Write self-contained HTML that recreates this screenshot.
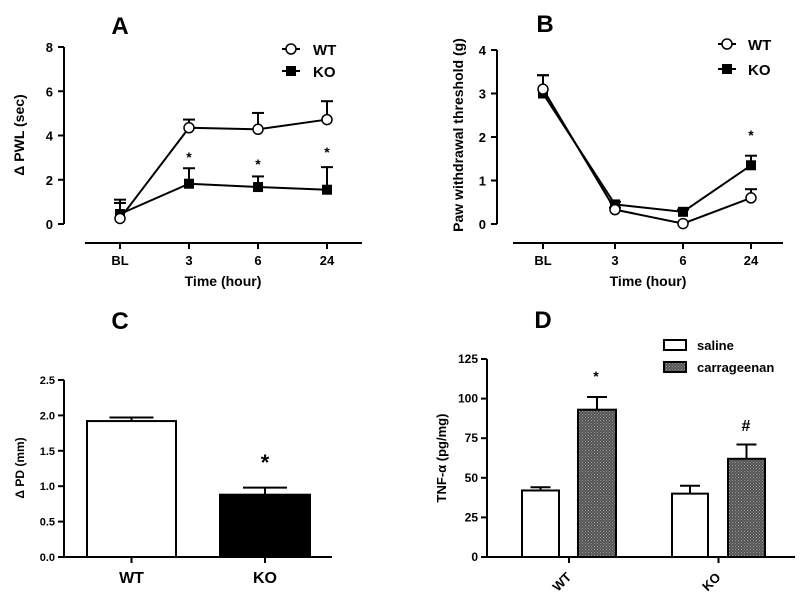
<!DOCTYPE html>
<html><head><meta charset="utf-8"><style>
body{margin:0;background:#fff}
svg{display:block;font-family:"Liberation Sans",Arial,sans-serif;font-weight:bold}
</style></head><body>
<svg id="c" width="800" height="600" viewBox="0 0 800 600">
<defs><pattern id="hatch" width="3" height="3" patternUnits="userSpaceOnUse"><rect width="3" height="3" fill="#555"/><rect width="1" height="1" fill="#999"/><rect x="1.5" y="1.5" width="1" height="1" fill="#888"/></pattern></defs>
</svg>
<script>
// Panel A data
const aCats=["BL","3","6","24"];
const aWT=[0.25,4.35,4.28,4.72];
const aWTerr=[0.7,0.37,0.74,0.83];
const aKO=[0.45,1.82,1.67,1.55];
const aKOerr=[0.65,0.7,0.48,1.02];
const aTicks=[0,2,4,6,8];
// Panel B data
const bCats=["BL","3","6","24"];
const bWT=[3.1,0.33,0.01,0.6];
const bWTerr=[0.32,0.05,0.03,0.2];
const bKO=[3.0,0.45,0.28,1.35];
const bKOerr=[0.42,0.06,0.05,0.22];
const bTicks=[0,1,2,3,4];
// Panel C data
const cCats=["WT","KO"];
const cVals=[1.92,0.88];
const cErr=[0.05,0.1];
const cTicks=["0.0","0.5","1.0","1.5","2.0","2.5"];
// Panel D data
const dCats=["WT","KO"];
const dSaline=[42,40];
const dSalineErr=[2,5];
const dCarr=[93,62];
const dCarrErr=[8,9];
const dTicks=[0,25,50,75,100,125];

const svg=document.getElementById('c');
const NS="http://www.w3.org/2000/svg";
function el(tag,attrs,name,text){
  const e=document.createElementNS(NS,tag);
  for(const k in attrs)e.setAttribute(k,attrs[k]);
  
  
  if(text!==undefined)e.textContent=text;
  svg.appendChild(e);return e;
}
function line(x1,y1,x2,y2,name,w){return el('line',{x1,y1,x2,y2,stroke:'#000','stroke-width':w||2},name);}
function txt(x,y,s,size,name,anchor,extra){const a={x,y,'font-size':size,'text-anchor':anchor||'middle',fill:'#000'};Object.assign(a,extra||{});return el('text',a,name,s);}

// ---------- Panel A ----------
(function(){
  const ya=v=>224-v*22.125, xs=[120,189,258,327];
  txt(120,34,"A",24,'panel-a-title');
  line(64,ya(8),64,ya(0),'a-y-axis');
  aTicks.forEach(t=>{line(58,ya(t),64,ya(t),'a-y-tick');txt(53,ya(t)+5,String(t),13,'a-y-tick-label','end');});
  line(85,243,362,243,'a-x-axis');
  aCats.forEach((c,i)=>{line(xs[i],243,xs[i],249,'a-x-tick');txt(xs[i],265,c,13,'a-x-tick-label');});
  txt(223,286,"Time (hour)",14,'a-x-axis-title');
  txt(24,135,"\u0394 PWL (sec)",14,'a-y-axis-title','middle',{transform:'rotate(-90 24 135)'});
  [[aKO,aKOerr,'ko'],[aWT,aWTerr,'wt']].forEach(([v,e,n])=>{
    v.forEach((d,i)=>{line(xs[i],ya(d),xs[i],ya(d+e[i]),'a-'+n+'-error-bar');line(xs[i]-6,ya(d+e[i]),xs[i]+6,ya(d+e[i]),'a-'+n+'-error-cap');});
    el('polyline',{points:v.map((d,i)=>xs[i]+','+ya(d)).join(' '),fill:'none',stroke:'#000','stroke-width':2},'a-'+n+'-line');
  });
  aKO.forEach((d,i)=>el('rect',{x:xs[i]-5,y:ya(d)-5,width:10,height:10,fill:'#000'},'a-ko-point'));
  aWT.forEach((d,i)=>el('circle',{cx:xs[i],cy:ya(d),r:5,fill:'#fff',stroke:'#000','stroke-width':1.5},'a-wt-point'));
  [[1,aKO[1]+aKOerr[1]],[2,aKO[2]+aKOerr[2]],[3,aKO[3]+aKOerr[3]]].forEach(([i])=>{});
  txt(xs[1],162,"*",14,'a-sig-star');txt(xs[2],169,"*",14,'a-sig-star');txt(xs[3],157,"*",14,'a-sig-star');
  line(282,49,300,49,'a-legend-wt-line');el('circle',{cx:291,cy:49,r:5,fill:'#fff',stroke:'#000','stroke-width':1.5},'a-legend-wt-marker');txt(313,55,"WT",15,'a-legend-wt-label','start');
  line(282,71,300,71,'a-legend-ko-line');el('rect',{x:286,y:66,width:10,height:10,fill:'#000'},'a-legend-ko-marker');txt(313,77,"KO",15,'a-legend-ko-label','start');
})();

// ---------- Panel B ----------
(function(){
  const ya=v=>224-v*43.5, xs=[543,615,683,751];
  txt(545,32,"B",24,'panel-b-title');
  line(497,ya(4),497,ya(0),'b-y-axis');
  bTicks.forEach(t=>{line(491,ya(t),497,ya(t),'b-y-tick');txt(486,ya(t)+5,String(t),13,'b-y-tick-label','end');});
  line(513,243,783,243,'b-x-axis');
  bCats.forEach((c,i)=>{line(xs[i],243,xs[i],249,'b-x-tick');txt(xs[i],265,c,13,'b-x-tick-label');});
  txt(648,286,"Time (hour)",14,'b-x-axis-title');
  txt(463,135,"Paw withdrawal threshold (g)",14,'b-y-axis-title','middle',{transform:'rotate(-90 463 135)'});
  [[bKO,bKOerr,'ko'],[bWT,bWTerr,'wt']].forEach(([v,e,n])=>{
    v.forEach((d,i)=>{line(xs[i],ya(d),xs[i],ya(d+e[i]),'b-'+n+'-error-bar');line(xs[i]-6,ya(d+e[i]),xs[i]+6,ya(d+e[i]),'b-'+n+'-error-cap');});
    el('polyline',{points:v.map((d,i)=>xs[i]+','+ya(d)).join(' '),fill:'none',stroke:'#000','stroke-width':2},'b-'+n+'-line');
  });
  bKO.forEach((d,i)=>el('rect',{x:xs[i]-5,y:ya(d)-5,width:10,height:10,fill:'#000'},'b-ko-point'));
  bWT.forEach((d,i)=>el('circle',{cx:xs[i],cy:ya(d),r:5,fill:'#fff',stroke:'#000','stroke-width':1.5},'b-wt-point'));
  txt(xs[3],140,"*",14,'b-sig-star');
  line(718,44,736,44,'b-legend-wt-line');el('circle',{cx:727,cy:44,r:5,fill:'#fff',stroke:'#000','stroke-width':1.5},'b-legend-wt-marker');txt(748,50,"WT",15,'b-legend-wt-label','start');
  line(718,69,736,69,'b-legend-ko-line');el('rect',{x:722,y:64,width:10,height:10,fill:'#000'},'b-legend-ko-marker');txt(748,75,"KO",15,'b-legend-ko-label','start');
})();

// ---------- Panel C ----------
(function(){
  const ya=v=>557-v*70.8, xs=[[87,176],[220,310]];
  txt(120,329,"C",24,'panel-c-title');
  line(64,ya(2.5),64,557,'c-y-axis');
  cTicks.forEach(t=>{const v=parseFloat(t);line(58,ya(v),64,ya(v),'c-y-tick');txt(55,ya(v)+4,t,11,'c-y-tick-label','end');});
  line(64,557,332,557,'c-x-axis');
  cCats.forEach((c,i)=>{const m=(xs[i][0]+xs[i][1])/2;line(m,557,m,563,'c-x-tick');txt(m,583,c,16,'c-x-tick-label');
    el('rect',{x:xs[i][0],y:ya(cVals[i]),width:xs[i][1]-xs[i][0],height:557-ya(cVals[i]),fill:i?'#000':'#fff',stroke:'#000','stroke-width':2},'c-bar-'+c.toLowerCase());
    line(m,ya(cVals[i]),m,ya(cVals[i]+cErr[i]),'c-error-bar');line(m-22,ya(cVals[i]+cErr[i]),m+22,ya(cVals[i]+cErr[i]),'c-error-cap');});
  txt(265,470,"*",22,'c-sig-star');
  txt(24,468,"\u0394 PD (mm)",12,'c-y-axis-title','middle',{transform:'rotate(-90 24 468)'});
})();

// ---------- Panel D ----------
(function(){
  const ya=v=>557-v*1.584;
  const sx=[[522,559],[672,708]], cx=[[578,616],[728,765]];
  txt(543,328,"D",24,'panel-d-title');
  line(487,ya(125),487,557,'d-y-axis');
  dTicks.forEach(t=>{line(481,ya(t),487,ya(t),'d-y-tick');txt(478,ya(t)+4,String(t),12,'d-y-tick-label','end');});
  line(487,557,795,557,'d-x-axis');
  dCats.forEach((c,i)=>{
    const m=(sx[i][0]+cx[i][1])/2; line(m,557,m,563,'d-x-tick');
    txt(m-4,585,c,13,'d-x-tick-label','middle',{transform:'rotate(-45 '+(m-4)+' 585)'});
    [[sx,dSaline,dSalineErr,'#fff','saline'],[cx,dCarr,dCarrErr,'url(#hatch)','carrageenan']].forEach(([X,v,e,f,n])=>{
      const x0=X[i][0],x1=X[i][1],mm=(x0+x1)/2;
      line(mm,ya(v[i]),mm,ya(v[i]+e[i]),'d-error-bar');line(mm-10,ya(v[i]+e[i]),mm+10,ya(v[i]+e[i]),'d-error-cap');
      el('rect',{x:x0,y:ya(v[i]),width:x1-x0,height:557-ya(v[i]),fill:f,stroke:'#000','stroke-width':2},'d-bar-'+c.toLowerCase()+'-'+n);
    });
  });
  txt(596,381,"*",14,'d-sig-star');
  txt(746,431,"#",16,'d-sig-hash');
  txt(446,458,"TNF-\u03b1 (pg/mg)",13,'d-y-axis-title','middle',{transform:'rotate(-90 446 458)'});
  el('rect',{x:664,y:340,width:22,height:10,fill:'#fff',stroke:'#000','stroke-width':2},'d-legend-saline-swatch');
  txt(697,350,"saline",13,'d-legend-saline-label','start');
  el('rect',{x:664,y:362,width:22,height:10,fill:'url(#hatch)',stroke:'#000','stroke-width':2},'d-legend-carrageenan-swatch');
  txt(697,372,"carrageenan",13,'d-legend-carrageenan-label','start');
})();
</script>
</body></html>
